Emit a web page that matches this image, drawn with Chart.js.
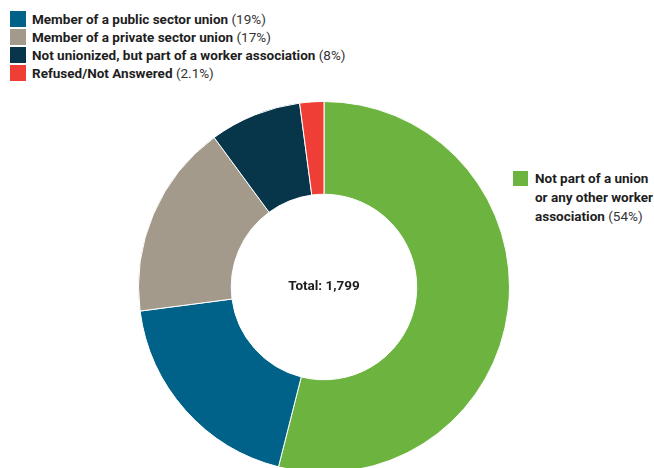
<!DOCTYPE html>
<html>
<head>
<meta charset="utf-8">
<script src="https://cdn.jsdelivr.net/npm/chart.js@4/dist/chart.umd.min.js"></script>
<style>
  html, body { margin: 0; padding: 0; background: #fff; overflow: hidden; }
  body { width: 654px; height: 468px; position: relative; font-family: Roboto, "Noto Sans", sans-serif; color: #1e1e1e; }
  #legend { position: absolute; left: 10px; top: 10px; font-size: 13.5px; white-space: nowrap; }
  .row { display: flex; align-items: center; height: 18px; }
  .sw { width: 16px; height: 16px; margin-right: 6px; flex: none; }
  .lbl { font-weight: 700; }
  .pct { font-weight: 400; color: #333; }
  #side { position: absolute; left: 513px; top: 169px; display: flex; font-size: 13.5px; line-height: 19px; white-space: nowrap; }
  #side .sw { width: 15px; height: 15px; margin-top: 2px; margin-right: 7px; }
  #wrap { position: absolute; left: 138px; top: 101px; width: 372px; height: 372px; }
</style>
</head>
<body>
<div id="legend"></div>
<div id="side"></div>
<div id="wrap"><canvas id="donut"></canvas></div>
<script>
// categories in drawing order, starting at 12 o'clock
const categories = [
  'Not part of a union or any other worker association',
  'Member of a public sector union',
  'Member of a private sector union',
  'Not unionized, but part of a worker association',
  'Refused/Not Answered'
];
const shares = [54, 19, 17, 8, 2.1];
const colors = ['#6db33f', '#006189', '#a49a8b', '#07354a', '#ef3e36'];
const total = '1,799';

// top-left legend lists everything except the big green slice
const legend = document.getElementById('legend');
for (let i = 1; i < categories.length; i++) {
  const row = document.createElement('div');
  row.className = 'row';
  row.innerHTML = `<span class="sw" style="background:${colors[i]}"></span>` +
    `<span><span class="lbl">${categories[i]}</span> <span class="pct">(${shares[i]}%)</span></span>`;
  legend.appendChild(row);
}

// label on the right for the largest slice
document.getElementById('side').innerHTML =
  `<span class="sw" style="background:${colors[0]}"></span>` +
  `<span><span class="lbl">Not part of a union<br>or any other worker<br>association</span> <span class="pct">(${shares[0]}%)</span></span>`;

const centerText = {
  id: 'centerText',
  afterDraw(chart) {
    const { ctx, chartArea } = chart;
    const x = (chartArea.left + chartArea.right) / 2;
    const y = (chartArea.top + chartArea.bottom) / 2;
    ctx.save();
    ctx.font = 'bold 13.5px Roboto, sans-serif';
    ctx.fillStyle = '#1e1e1e';
    ctx.textAlign = 'center';
    ctx.textBaseline = 'middle';
    ctx.fillText('Total: ' + total, x, y);
    ctx.restore();
  }
};

new Chart(document.getElementById('donut'), {
  type: 'doughnut',
  data: {
    labels: categories,
    datasets: [{
      data: shares,
      backgroundColor: colors,
      borderColor: '#ffffff',
      borderWidth: 1
    }]
  },
  options: {
    responsive: true,
    maintainAspectRatio: false,
    animation: false,
    cutout: '50%',
    layout: { padding: 0 },
    plugins: {
      legend: { display: false },
      tooltip: { enabled: false }
    }
  },
  plugins: [centerText]
});
</script>
</body>
</html>
